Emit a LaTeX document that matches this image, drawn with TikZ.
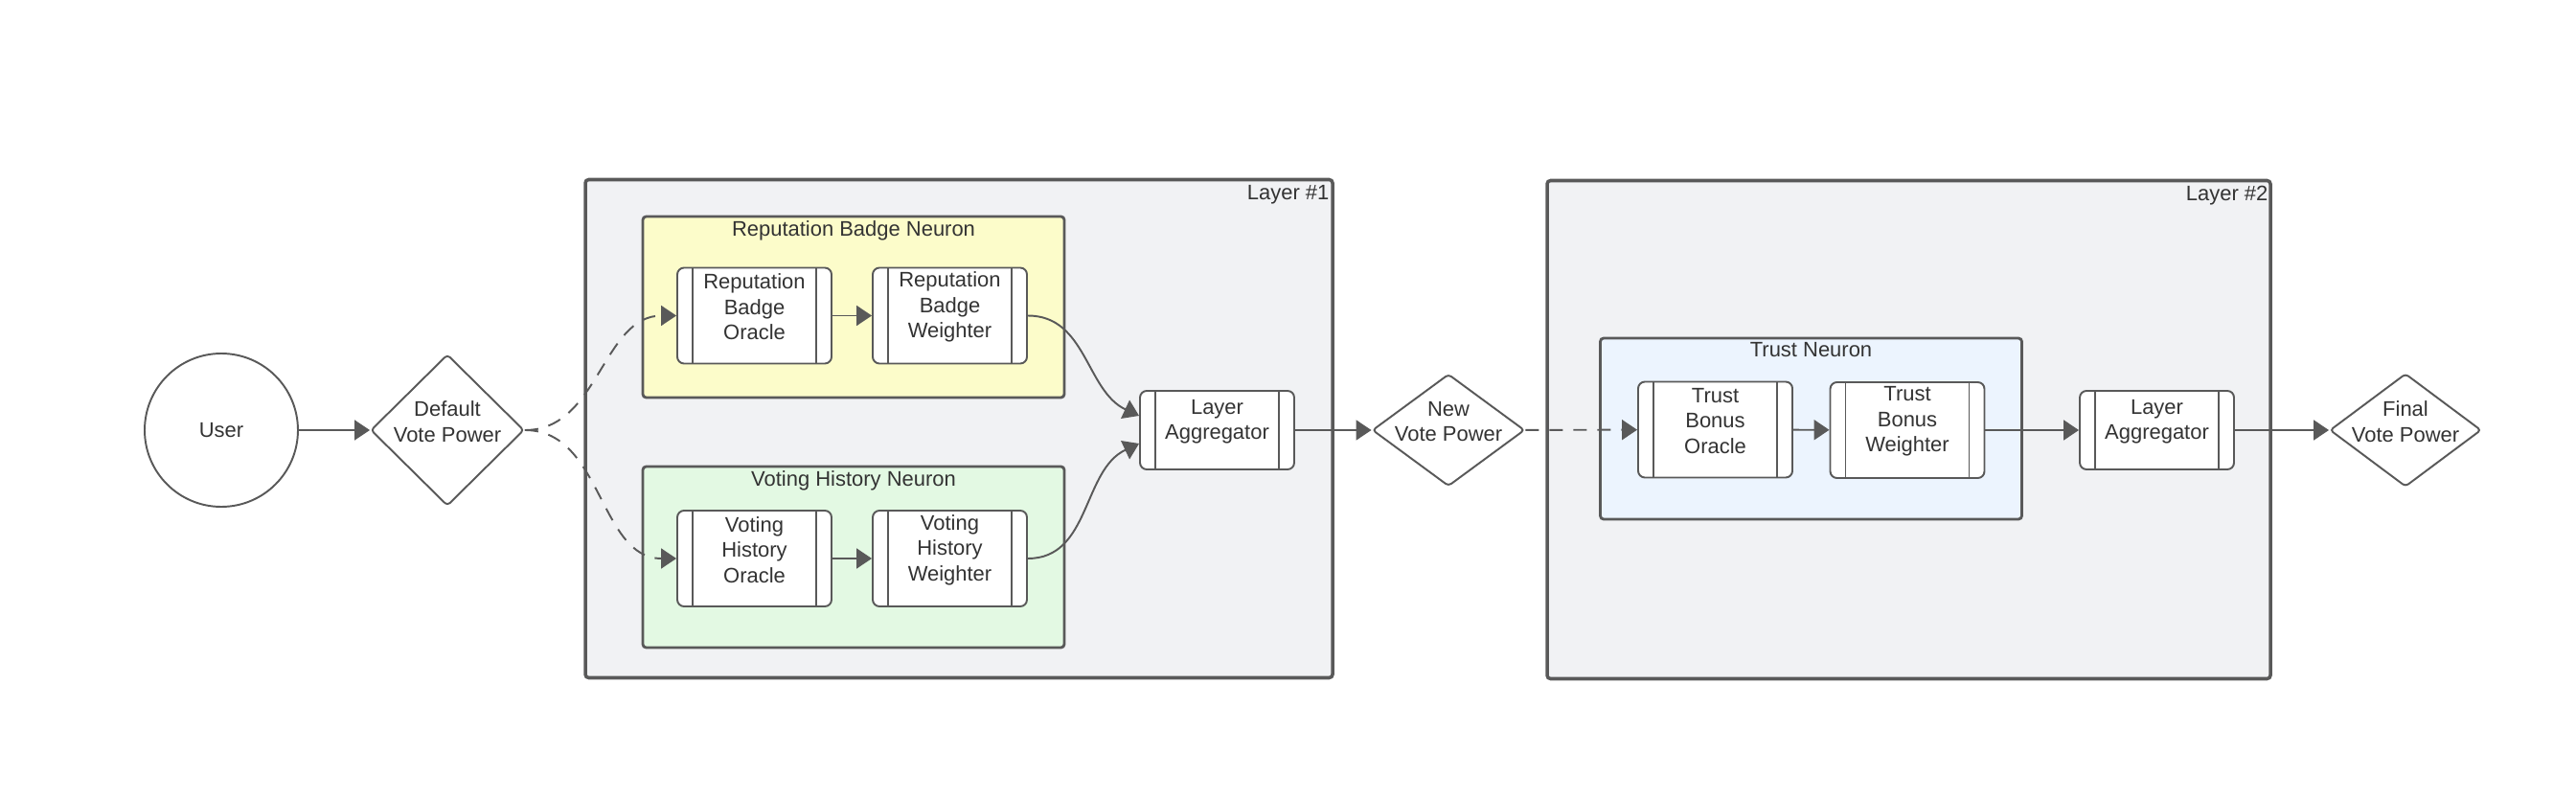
\documentclass[tikz,border=0pt]{standalone}
\usepackage{fontspec}
\setmainfont{Liberation Sans}
\usetikzlibrary{shapes.geometric,arrows.meta}
\definecolor{lnGray}{HTML}{595959}
\definecolor{txGray}{HTML}{333333}
\definecolor{bgLayer}{HTML}{F1F2F4}
\definecolor{bgYellow}{HTML}{FCFCCA}
\definecolor{bgGreen}{HTML}{E3F9E3}
\definecolor{bgBlue}{HTML}{ECF4FE}

\begin{document}
\begin{tikzpicture}[
    font=\fontsize{12.5}{15}\selectfont, text=txGray,
    layer/.style={rectangle, draw=lnGray, line width=2pt, fill=bgLayer, rounded corners=2pt,
                  minimum height=10.4cm},
    neuron/.style={rectangle, draw=lnGray, line width=1.6pt, rounded corners=2pt,
                   minimum width=8.8cm, minimum height=3.78cm},
    proc/.style={rectangle, draw=lnGray, line width=1.1pt, fill=white, rounded corners=4pt,
                 minimum width=3.22cm, minimum height=2cm,
                 path picture={\draw[lnGray, line width=1.1pt]
                   ([xshift=0.32cm]path picture bounding box.north west) -- ([xshift=0.32cm]path picture bounding box.south west)
                   ([xshift=-0.32cm]path picture bounding box.north east) -- ([xshift=-0.32cm]path picture bounding box.south east);}},
    txt/.style={align=center, yshift=0.18cm},
    decision/.style={diamond, draw=lnGray, line width=1.1pt, fill=white, rounded corners=2pt, inner sep=0pt},
    flow/.style={-{Triangle[length=0.32cm, width=0.42cm]}, line width=1.1pt, lnGray},
    dflow/.style={flow, dash pattern=on 0.28cm off 0.22cm}
  ]
  \useasboundingbox (0,8.98) rectangle (53.78,-7.68);

  % layers and neurons
  \node[layer, minimum width=15.6cm, label={[anchor=north east, inner sep=0pt, xshift=-0.1cm, yshift=-0.14cm]north east:Layer \#1}] (l1) at (20.02,0.03) {};
  \node[layer, minimum width=15.1cm, label={[anchor=north east, inner sep=0pt, xshift=-0.08cm, yshift=-0.14cm]north east:Layer \#2}] (l2) at (39.85,0.01) {};
  \node[neuron, fill=bgYellow, label={[anchor=north]north:Reputation Badge Neuron}] (rbn) at (17.82,2.57) {};
  \node[neuron, fill=bgGreen, label={[anchor=north]north:Voting History Neuron}]    (vhn) at (17.82,-2.65) {};
  \node[neuron, fill=bgBlue, label={[anchor=north]north:Trust Neuron}]              (tn)  at (37.81,0.03) {};

  \node[circle, draw=lnGray, line width=1.1pt, minimum size=3.2cm] (user) at (4.62,0) {User};
  \node[decision, minimum width=3.2cm, minimum height=3.16cm, label={[txt]center:Default\\Vote Power}] (dvp) at (9.34,0) {};

  \node[proc, label={[txt]center:Reputation\\Badge\\Oracle}]   (rbo) at (15.75,2.39) {};
  \node[proc, label={[txt]center:Reputation\\Badge\\Weighter}] (rbw) at (19.83,2.39) {};
  \node[proc, label={[txt]center:Voting\\History\\Oracle}]     (vho) at (15.75,-2.68) {};
  \node[proc, label={[txt]center:Voting\\History\\Weighter}]   (vhw) at (19.83,-2.68) {};
  \node[proc, minimum height=1.64cm, label={[txt]center:Layer\\Aggregator}] (agg1) at (25.41,0) {};

  \node[decision, minimum width=3.18cm, minimum height=2.34cm, label={[txt]center:New\\Vote Power}] (nvp) at (30.24,0) {};

  \node[proc, label={[txt]center:Trust\\Bonus\\Oracle}]   (tbo) at (35.81,0.01) {};
  \node[proc, label={[txt]center:Trust\\Bonus\\Weighter}] (tbw) at (39.82,0) {};
  \node[proc, minimum height=1.64cm, label={[txt]center:Layer\\Aggregator}] (agg2) at (45.03,0) {};

  \node[decision, minimum width=3.16cm, minimum height=2.36cm, label={[txt]center:Final\\Vote Power}] (fvp) at (50.22,0) {};

  % connectors
  \draw[flow]  (user) -- (dvp);
  \draw[dflow] (dvp.east) to[out=0, in=180] (rbo.west);
  \draw[dflow] (dvp.east) to[out=0, in=180] (vho.west);
  \draw[flow]  (rbo) -- (rbw);
  \draw[flow]  (vho) -- (vhw);
  \draw[flow]  (rbw.east) to[out=0, in=155] ([yshift=0.3cm]agg1.west);
  \draw[flow]  (vhw.east) to[out=0, in=205] ([yshift=-0.28cm]agg1.west);
  \draw[flow]  (agg1) -- (nvp);
  \draw[dflow] (nvp) -- (tbo);
  \draw[flow]  (tbo) -- (tbw);
  \draw[flow]  (tbw) -- (agg2);
  \draw[flow]  (agg2) -- (fvp);
\end{tikzpicture}
\end{document}
